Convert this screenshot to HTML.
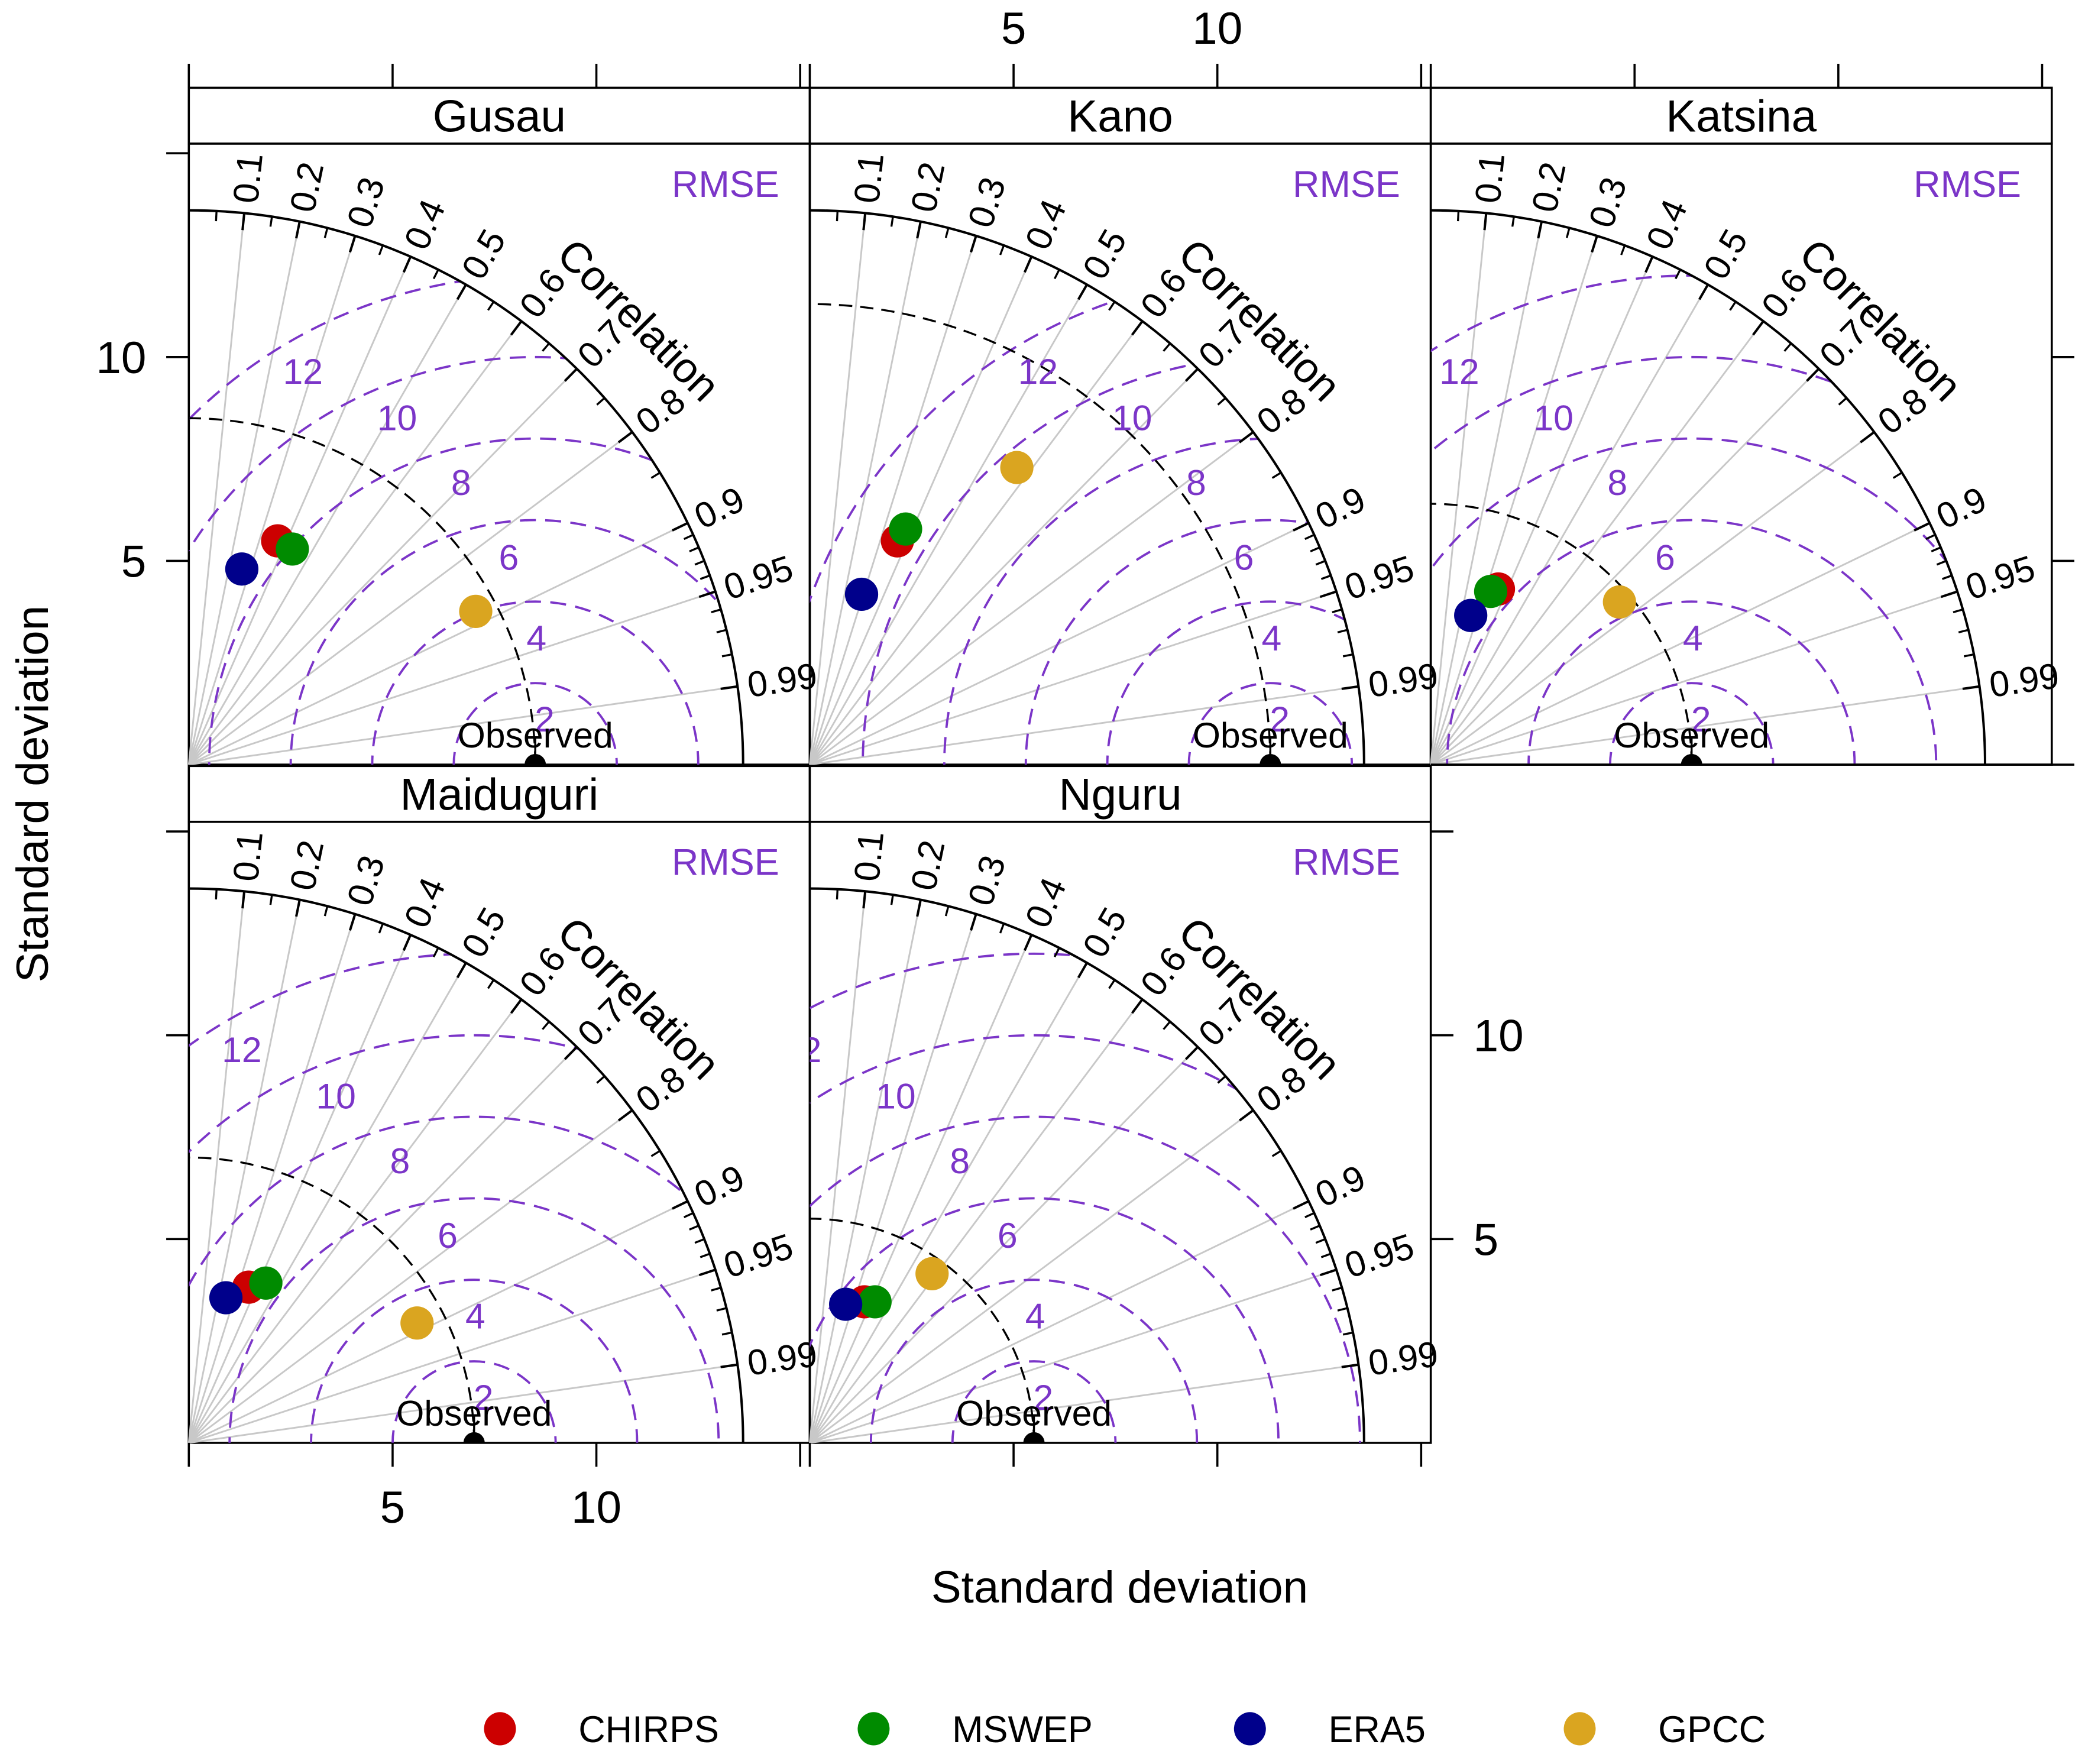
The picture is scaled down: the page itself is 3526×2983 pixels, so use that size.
<!DOCTYPE html>
<html><head><meta charset="utf-8"><style>
html,body{margin:0;padding:0;background:#fff;overflow:hidden;width:3526px;height:2983px}
svg{display:block}
text{font-family:"Liberation Sans",Arial,sans-serif}
</style></head><body>
<svg id="chart" xmlns="http://www.w3.org/2000/svg" width="3526" height="2983" viewBox="0 0 1568 1326.5" preserveAspectRatio="none"></svg>
<script>
// ---- data ----
const stations = ["Gusau","Kano","Katsina","Maiduguri","Nguru"];
const observedSD = [8.5, 11.3, 6.4, 7.0, 5.5];
const models = ["CHIRPS","MSWEP","ERA5","GPCC"];
const modelColors = ["#cc0000","#008b00","#00008b","#daa520"];
// x / y components (sd*cor, sd*sin) per model, per station
const chirpsX = [2.18, 2.15, 1.66, 1.47, 1.34];
const chirpsY = [5.49, 5.49, 4.31, 3.82, 3.46];
const mswepX = [2.54, 2.35, 1.47, 1.89, 1.60];
const mswepY = [5.29, 5.78, 4.25, 3.92, 3.46];
const era5X = [1.30, 1.27, 0.98, 0.91, 0.88];
const era5Y = [4.80, 4.18, 3.66, 3.56, 3.40];
const gpccX = [7.04, 5.08, 4.63, 5.60, 3.00];
const gpccY = [3.76, 7.29, 3.99, 2.94, 4.15];
const corMajor = [0.1,0.2,0.3,0.4,0.5,0.6,0.7,0.8,0.9,0.95,0.99];
const corMajorLabels = ["0.1","0.2","0.3","0.4","0.5","0.6","0.7","0.8","0.9","0.95","0.99"];
const corMinor = [0.05,0.15,0.25,0.35,0.45,0.55,0.65,0.75,0.85,0.91,0.92,0.93,0.94,0.96,0.97,0.98];
const rmseLevels = [2,4,6,8,10,12];
const rmseLabelDX = [0.23,0.03,-0.65,-1.82,-3.39,-5.7];
const rmseLabelDY = [1.14,3.13,5.11,6.94,8.53,9.67];
const axisTicks = [5,10,15];
const axisTickLabels = ["5","10"];

const NS="http://www.w3.org/2000/svg";
const svg=document.getElementById('chart');
const K=30.65, R=13.6, PW=467, PURPLE="#7b35c8";
const orig=[[142,575],[609,575],[1076,575],[142,1085],[609,1085]];
const tops=[108,108,108,618,618];
function el(tag,attrs,parent){const e=document.createElementNS(NS,tag);for(const k in attrs)e.setAttribute(k,attrs[k]);(parent||svg).appendChild(e);return e;}
function txt(s,attrs,parent){const e=el('text',attrs,parent);e.textContent=s;return e;}
const defs=el('defs',{});

stations.forEach((st,i)=>{
  const [ox,oy]=orig[i]; const top=tops[i];
  const sx=v=>ox+v*K, sy=v=>oy-v*K;
  const g=el('g',{});
  
  
  const cp=el('clipPath',{id:'q'+i},defs);
  el('path',{d:`M${ox},${oy} L${sx(R)},${oy} A${R*K},${R*K} 0 0 0 ${ox},${sy(R)} Z`},cp);
  const cr=el('clipPath',{id:'r'+i},defs);
  el('rect',{x:ox,y:top,width:PW,height:oy-top},cr);
  const strip=el('rect',{x:ox,y:top-42,width:PW,height:42,fill:'#fff',stroke:'#000','stroke-width':1.6},g);
  
  
  const stt=txt(st,{x:ox+PW/2,y:top-9,'font-size':34,'text-anchor':'middle'},g);
  
  
  el('rect',{x:ox,y:top,width:PW,height:oy-top,fill:'none',stroke:'#000','stroke-width':1.6},g);
  corMajor.forEach(c=>{const t=Math.acos(c);
    const ln=el('line',{x1:ox,y1:oy,x2:sx(R*Math.cos(t)),y2:sy(R*Math.sin(t)),stroke:'#c8c8c8','stroke-width':1.3},g);
    
    });
  const rg=el('g',{'clip-path':`url(#q${i})`},g);
  rmseLevels.forEach(r=>{
    const c=el('circle',{cx:sx(observedSD[i]),cy:oy,r:r*K,fill:'none',stroke:PURPLE,'stroke-width':1.7,'stroke-dasharray':'12,7'},rg);
    
    });
  const so=observedSD[i];
  const oa=el('path',{d:`M${sx(so)},${oy} A${so*K},${so*K} 0 0 0 ${ox},${sy(so)}`,fill:'none',stroke:'#000','stroke-width':1.5,'stroke-dasharray':'10,6'},g);
  
  
  const lg=el('g',{'clip-path':`url(#r${i})`},g);
  rmseLevels.forEach((r,j)=>{
    const t=txt(String(r),{x:sx(so+rmseLabelDX[j]),y:sy(rmseLabelDY[j])+10,'font-size':27,fill:PURPLE,'text-anchor':'middle'},lg);
    
    });
  const rm=txt('RMSE',{x:ox+PW-23,y:top+40,'font-size':28,fill:PURPLE,'text-anchor':'end'},g);
  
  
  const arc=el('path',{d:`M${sx(R)},${oy} A${R*K},${R*K} 0 0 0 ${ox},${sy(R)}`,fill:'none',stroke:'#000','stroke-width':1.8},g);
  
  
  corMajor.forEach((c,j)=>{const t=Math.acos(c);
    el('line',{x1:sx(R*Math.cos(t)),y1:sy(R*Math.sin(t)),x2:sx((R-0.42)*Math.cos(t)),y2:sy((R-0.42)*Math.sin(t)),stroke:'#000','stroke-width':1.8},g);
    const lx=sx((R+0.25)*Math.cos(t)), ly=sy((R+0.25)*Math.sin(t));
    const tl=txt(corMajorLabels[j],{x:lx,y:ly,'font-size':27,'dominant-baseline':'central',transform:`rotate(${-t*180/Math.PI} ${lx} ${ly})`},g);
    
    });
  corMinor.forEach(c=>{const t=Math.acos(c);
    el('line',{x1:sx(R*Math.cos(t)),y1:sy(R*Math.sin(t)),x2:sx((R-0.25)*Math.cos(t)),y2:sy((R-0.25)*Math.sin(t)),stroke:'#000','stroke-width':1.5},g);});
  const cx=sx(15.6*Math.SQRT1_2), cy=sy(15.6*Math.SQRT1_2)+4;
  const ct=txt('Correlation',{x:cx,y:cy,'font-size':32,'text-anchor':'middle','dominant-baseline':'central',transform:`rotate(45 ${cx} ${cy})`},g);
  
  
  const og=el('g',{'clip-path':`url(#r${i})`},g);
  el('line',{x1:sx(so),y1:oy,x2:sx(so),y2:oy-20,stroke:'#000','stroke-width':1.5},og);
  const od=el('circle',{cx:sx(so),cy:oy,r:8,fill:'#000'},og);
  
  
  const ot=txt('Observed',{x:sx(so),y:oy-13,'font-size':27,'text-anchor':'middle'},g);
  
  
  const X=[chirpsX,mswepX,era5X,gpccX], Y=[chirpsY,mswepY,era5Y,gpccY];
  models.forEach((m,k)=>{
    const p=el('circle',{cx:sx(X[k][i]),cy:sy(Y[k][i]),r:12.5,fill:modelColors[k]},g);
    
    });
});

const ax=el('g',{stroke:'#000','stroke-width':1.6});


function tick(x1,y1,x2,y2){el('line',{x1,y1,x2,y2},ax);}
[142,609,1076].forEach(ox=>{[0,5,10,15].forEach(v=>tick(ox+v*K,66,ox+v*K,48));});
[142,609].forEach(ox=>{[0,5,10,15].forEach(v=>tick(ox+v*K,1085,ox+v*K,1103));});
axisTicks.forEach(v=>{tick(142,575-v*K,125,575-v*K);tick(142,1085-v*K,125,1085-v*K);tick(1076,1085-v*K,1093,1085-v*K);});
[5,10].forEach(v=>tick(1543,575-v*K,1560,575-v*K));
tick(1076,575,1560,575);
function lab(s,x,y,anchor,name){const t=txt(s,{x,y,'font-size':34,'text-anchor':anchor});}
axisTickLabels.forEach((s,j)=>{const v=axisTicks[j];
  lab(s,609+v*K,33,'middle','top-tick-label');
  lab(s,142+v*K,1145,'middle','bottom-tick-label');
  lab(s,110,575-v*K+12,'end','left-tick-label');
  lab(s,1108,1085-v*K+12,'start','right-tick-label');});
const xt=txt('Standard deviation',{x:842,y:1205,'font-size':34,'text-anchor':'middle'});


const yt=txt('Standard deviation',{x:0,y:0,'font-size':34,'text-anchor':'middle',transform:'translate(36 597) rotate(-90)'});


const legX=[376,657,940,1188];
models.forEach((m,k)=>{
  const lg=el('g',{});
  
  
  el('ellipse',{cx:legX[k],cy:1300,rx:12,ry:12.5,fill:modelColors[k]},lg);
  txt(m,{x:legX[k]+59,y:1310,'font-size':28},lg);
});
</script>
</body></html>
